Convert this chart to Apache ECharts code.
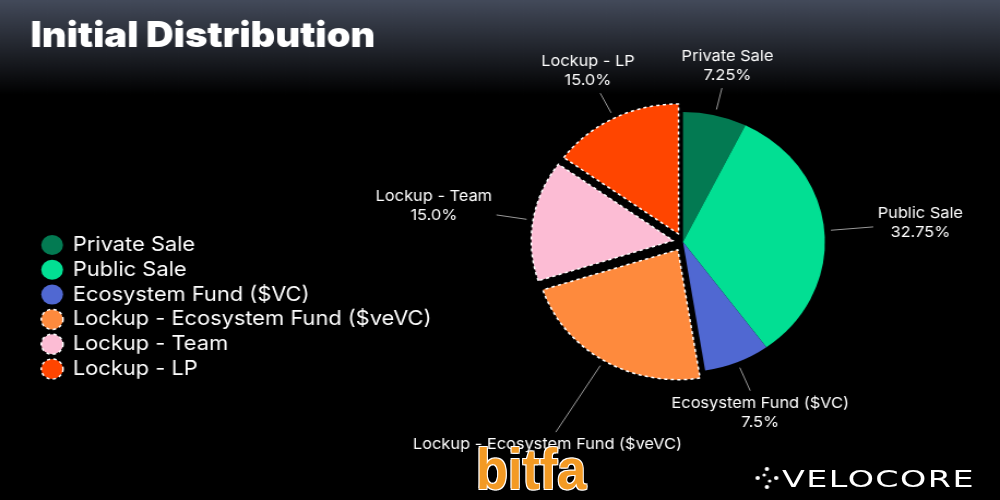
<!DOCTYPE html>
<html><head><meta charset="utf-8">
<script src="https://cdn.jsdelivr.net/npm/echarts@6/dist/echarts.min.js"></script>
<style>
html,body{margin:0;padding:0;background:#000;width:1000px;height:500px;overflow:hidden;}
#wrap{position:absolute;left:0;top:0;width:916px;height:500px;transform:scaleX(1.0917);transform-origin:0 0;}
#chart{width:916px;height:500px;}
#bitfa{position:absolute;left:476px;top:439px;font:bold 58px "Liberation Sans",sans-serif;color:#f39a24;line-height:60px;
  transform:scaleX(0.9);transform-origin:0 0;
  text-shadow:-1px -1px 0 #fff,1px -1px 0 #fff,-1px 1px 0 #fff,1px 1px 0 #fff;z-index:5;}
#velocore{position:absolute;left:782px;top:466px;font:23px "DejaVu Sans",sans-serif;color:#fff;letter-spacing:1px;line-height:26px;
  transform:scaleX(1.45);transform-origin:0 0;z-index:5;}
</style></head><body>
<div id="wrap"><div id="chart"></div></div>
<div id="bitfa">bitfa</div>
<div id="velocore">VELOCORE</div>
<script>
const titleText = 'Initial Distribution';
const categories = ['Private Sale', 'Public Sale', 'Ecosystem Fund ($VC)', 'Lockup - Ecosystem Fund ($veVC)', 'Lockup - Team', 'Lockup - LP'];
const shares = [7.25, 32.75, 7.5, 22.5, 15, 15];
const shareLabels = ['7.25%', '32.75%', '7.5%', '', '15.0%', '15.0%'];
const lockedSlices = ['Lockup - Ecosystem Fund ($veVC)', 'Lockup - Team', 'Lockup - LP'];

const sliceColors = ['#037a52', '#02df93', '#5068d2', '#fe8a3d', '#fcbcd4', '#ff4500'];
const lineLengths = [28, 45, 31, 84, 34, 28];
const baseCenter = [625.6, 242];
const pieRadius = 130;
const explodeDist = 9;

const chart = echarts.init(document.getElementById('chart'), null, {renderer: 'canvas'});
const total = shares.reduce(function (s, v) { return s + v; }, 0);

function isLocked(i) { return lockedSlices.indexOf(categories[i]) >= 0; }
function sliceStyle(i) {
  return isLocked(i)
    ? {color: sliceColors[i], borderColor: '#ffffff', borderWidth: 1.5, borderType: [3, 3]}
    : {color: sliceColors[i], borderWidth: 0};
}
function explodedCenter(i) {
  let before = 0;
  for (let j = 0; j < i; j++) before += shares[j];
  const mid = (before + shares[i] / 2) / total * 2 * Math.PI;
  return [baseCenter[0] + explodeDist * Math.sin(mid), baseCenter[1] - explodeDist * Math.cos(mid)];
}
function placeLabel(p) {
  const pts = p.labelLinePoints;
  if (!pts || pts.length < 2) return {};
  const a = pts[0], b = pts[1];
  const dx = b[0] - a[0], dy = b[1] - a[1];
  const len = Math.hypot(dx, dy) || 1;
  const ux = dx / len, uy = dy / len;
  const start = [a[0] + ux * 6, a[1] + uy * 6];
  const hw = p.labelRect.width / 2 + 4, hh = p.labelRect.height / 2 + 3;
  const t = Math.min(hw / Math.max(Math.abs(ux), 1e-6), hh / Math.max(Math.abs(uy), 1e-6));
  return {x: b[0] + ux * t, y: b[1] + uy * t, align: 'center', verticalAlign: 'middle',
          labelLinePoints: [start, b, b]};
}
function makeSeries(owned, center) {
  return {
    type: 'pie',
    center: center,
    radius: pieRadius,
    startAngle: 90,
    clockwise: true,
    avoidLabelOverlap: false,
    silent: true,
    label: {show: true, position: 'outside', color: '#ffffff', fontFamily: 'Inter', fontSize: 15, lineHeight: 19},
    labelLine: {show: true, lineStyle: {color: '#9a9a9a', width: 1}},
    labelLayout: placeLabel,
    emphasis: {disabled: true},
    data: categories.map(function (name, i) {
      const show = owned.indexOf(i) >= 0;
      return {
        name: name,
        value: shares[i],
        itemStyle: show ? sliceStyle(i) : {color: 'rgba(0,0,0,0)', borderWidth: 0},
        label: {show: show, formatter: shareLabels[i] ? name + '\n' + shareLabels[i] : name},
        labelLine: {show: show, length: lineLengths[i], length2: 0}
      };
    })
  };
}

const series = [];
const mainOwned = [];
categories.forEach(function (n, i) { if (!isLocked(i)) mainOwned.push(i); });
series.push(makeSeries(mainOwned, baseCenter));
categories.forEach(function (n, i) { if (isLocked(i)) series.push(makeSeries([i], explodedCenter(i))); });

const option = {
  animation: false,
  backgroundColor: {
    type: 'linear', x: 0, y: 0, x2: 0, y2: 1,
    colorStops: [
      {offset: 0, color: '#434a5a'},
      {offset: 0.08, color: '#272b34'},
      {offset: 0.19, color: '#000000'},
      {offset: 1, color: '#000000'}
    ]
  },
  title: {
    text: titleText,
    left: 23, top: 14,
    textStyle: {color: '#ffffff', fontFamily: 'Inter', fontWeight: 900, fontSize: 35}
  },
  legend: {
    orient: 'vertical', left: 32, top: 229,
    itemWidth: 20, itemHeight: 20, itemGap: 2.8, icon: 'circle',
    selectedMode: false,
    textStyle: {color: '#ffffff', fontFamily: 'Inter', fontSize: 20, lineHeight: 22, padding: [0, 0, 0, 4]},
    data: categories.map(function (name, i) { return {name: name, itemStyle: sliceStyle(i)}; })
  },
  series: series,
  graphic: [
    {type: 'group', left: 692, top: 467, z: 100, children: [
      {type: 'circle', shape: {cx: 2, cy: 11, r: 2}, style: {fill: '#fff'}},
      {type: 'circle', shape: {cx: 19, cy: 11, r: 2}, style: {fill: '#fff'}},
      {type: 'circle', shape: {cx: 10.5, cy: 2, r: 2}, style: {fill: '#fff'}},
      {type: 'circle', shape: {cx: 10.5, cy: 20, r: 2}, style: {fill: '#fff'}},
      {type: 'circle', shape: {cx: 8, cy: 8, r: 1.6}, style: {fill: '#fff'}},
      {type: 'circle', shape: {cx: 13, cy: 14, r: 1.6}, style: {fill: '#fff'}}
    ]}
  ]
};
chart.setOption(option);
</script>
</body></html>
